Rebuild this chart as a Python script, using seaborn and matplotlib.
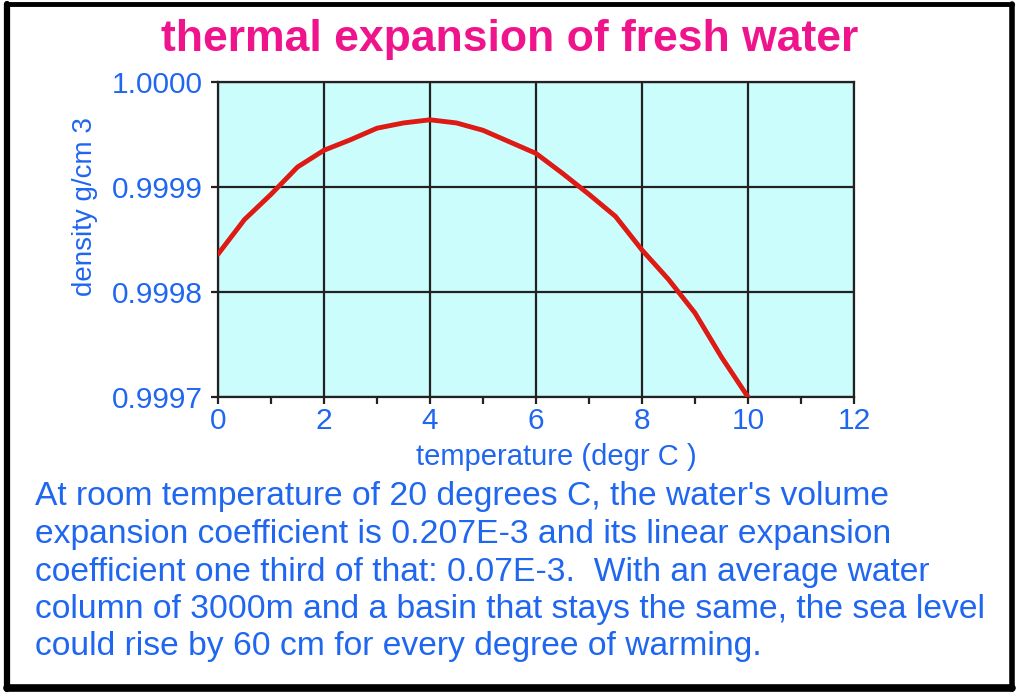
import matplotlib
matplotlib.use("Agg")
import matplotlib.pyplot as plt
import seaborn as sns
import pandas as pd
from matplotlib.lines import Line2D

temperature = [0, 0.5, 1, 1.5, 2, 2.5, 3, 3.5, 4, 4.5, 5, 5.5, 6,
               6.5, 7, 7.5, 8, 8.5, 9, 9.5, 10]
density = [0.999836, 0.999869, 0.999893, 0.999919, 0.999935, 0.999945,
           0.999956, 0.999961, 0.999964, 0.999961, 0.999954, 0.999943,
           0.999932, 0.999913, 0.999893, 0.999872, 0.999840, 0.999812,
           0.999780, 0.999738, 0.999700]
x_ticks = [0, 2, 4, 6, 8, 10, 12]
y_ticks = [0.9997, 0.9998, 0.9999, 1.0000]
y_tick_labels = ["0.9997", "0.9998", "0.9999", "1.0000"]

title = "thermal expansion of fresh water"
x_label = "temperature (degr C )"
y_label = "density g/cm 3"
note_lines = [
    "At room temperature of 20 degrees C, the water's volume",
    "expansion coefficient is 0.207E-3 and its linear expansion",
    "coefficient one third of that: 0.07E-3.  With an average water",
    "column of 3000m and a basin that stays the same, the sea level",
    "could rise by 60 cm for every degree of warming.",
]

sns.set_theme(style="white")
plt.rcParams['font.family'] = ['Liberation Sans', 'DejaVu Sans']

BLUE = "#1f66f0"
PINK = "#f0148c"
RED = "#dd1a14"

df = pd.DataFrame({"t": temperature, "d": density})

W, H = 1028, 693
fig = plt.figure(figsize=(W / 100, H / 100), dpi=100)
fig.patch.set_facecolor("white")
ax = fig.add_axes([218 / W, 1 - 397 / H, (854 - 218) / W, (397 - 82) / H])
ax.set_facecolor("#ccfdfd")

sns.lineplot(data=df, x="t", y="d", ax=ax, color=RED, linewidth=3.5, zorder=5)

ax.set_xlim(0, 12)
ax.set_ylim(0.9997, 1.0000)
ax.set_xticks(x_ticks)
ax.set_xticks([1, 3, 5, 7, 9, 11], minor=True)
ax.set_yticks(y_ticks)
ax.set_yticklabels(y_tick_labels)
ax.grid(True, which="major", color="#222222", linewidth=1.6)
ax.set_axisbelow(False)
for s in ax.spines.values():
    s.set_color("#222222")
    s.set_linewidth(1.6)
ax.tick_params(axis="x", which="major", direction="out", length=5, width=1.6,
               color="#222222", labelcolor=BLUE, labelsize=21.5, pad=2,
               bottom=True)
ax.tick_params(axis="y", which="major", direction="out", length=5, width=1.6,
               color="#222222", labelcolor=BLUE, labelsize=21.5, pad=6,
               left=True)
ax.tick_params(axis="x", which="minor", direction="out", length=5, width=1.6,
               color="#222222", bottom=True)
ax.set_xlabel(x_label, color=BLUE, fontsize=21)
ax.xaxis.set_label_coords((556 - 218) / 636, (397 - 443) / 315)
ax.set_ylabel(y_label, color=BLUE, fontsize=20)
ax.yaxis.set_label_coords((98 - 218) / 636, (397 - 207) / 315)

fig.text(510 / W, 1 - 40 / H, title, color=PINK, fontsize=32, fontweight="bold",
         ha="center", va="center")
for i, line in enumerate(note_lines):
    fig.text(35 / W, 1 - (497 + 37.5 * i) / H, line, color=BLUE, fontsize=24.2,
             ha="left", va="center")

# outer frame
fig.add_artist(Line2D([7 / W, 7 / W], [1 - 4 / H, 1 - 689 / H],
                      transform=fig.transFigure, color="black", lw=4.5))
fig.add_artist(Line2D([7 / W, 1012 / W], [1 - 4 / H, 1 - 4 / H],
                      transform=fig.transFigure, color="black", lw=3.5))
fig.add_artist(Line2D([1012 / W, 1012 / W], [1 - 4 / H, 1 - 689 / H],
                      transform=fig.transFigure, color="black", lw=4.0))
fig.add_artist(Line2D([7 / W, 1012 / W], [1 - 688 / H, 1 - 688 / H],
                      transform=fig.transFigure, color="black", lw=5.5))

fig.savefig("out.png", dpi=100, facecolor="white")
